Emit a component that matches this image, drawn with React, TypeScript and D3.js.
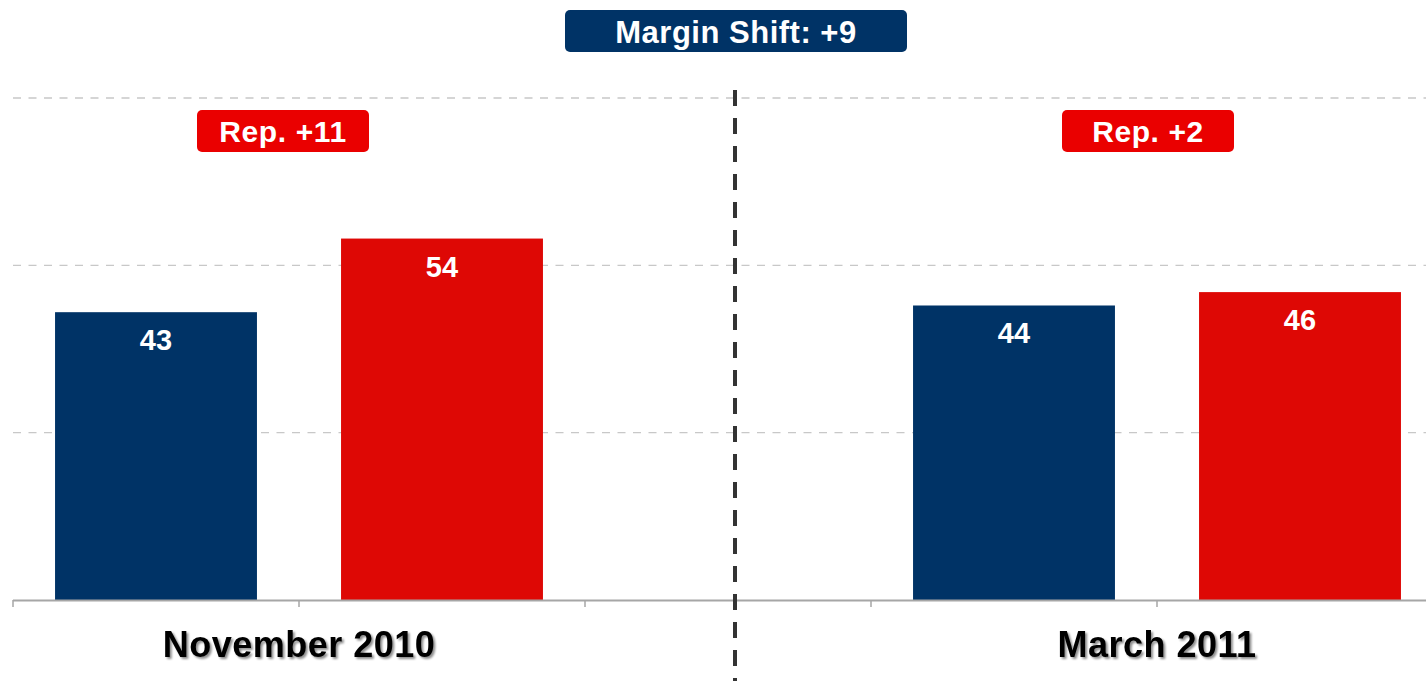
import React from "react";
import * as d3 from "d3";

const slots = ["Nov-Dem", "Nov-Rep", "gap", "Mar-Dem", "Mar-Rep"];
const parties = ["Dem", "Rep"];
const periods = ["November 2010", "March 2011"];
const values = [
  { slot: "Nov-Dem", party: "Dem", value: 43 },
  { slot: "Nov-Rep", party: "Rep", value: 54 },
  { slot: "Mar-Dem", party: "Dem", value: 44 },
  { slot: "Mar-Rep", party: "Rep", value: 46 },
];
const leads = ["Rep. +11", "Rep. +2"];
const title = "Margin Shift: +9";
const gridTicks = [25, 50, 75];

const W = 1426;
const H = 681;
const NAVY = "#003366";
const RED = "#de0805";
const FONT = "'Liberation Sans', Arial, sans-serif";

export default function App() {
  const x = d3
    .scaleBand<string>()
    .domain(slots)
    .range([13, 1443])
    .paddingInner(0.294)
    .paddingOuter(0.147);
  const y = d3.scaleLinear().domain([0, 75]).range([600, 98]);
  const step = x.step();
  const x0 = 13;
  const boundaries = d3.range(slots.length + 1).map((i) => x0 + i * step);
  const color = d3.scaleOrdinal<string, string>().domain(parties).range([NAVY, RED]);
  const periodCenters = [boundaries[1], boundaries[4]];
  const midX = 735;

  return (
    <svg
      width={W}
      height={H}
      style={{ position: "absolute", left: 0, top: 0, background: "#fff" }}
    >
      <defs>
        <filter id="shadow" x="-10%" y="-30%" width="120%" height="160%">
          <feGaussianBlur in="SourceAlpha" stdDeviation="1" />
          <feOffset dx="2" dy="2" result="b" />
          <feComponentTransfer>
            <feFuncA type="linear" slope="0.45" />
          </feComponentTransfer>
          <feMerge>
            <feMergeNode />
            <feMergeNode in="SourceGraphic" />
          </feMerge>
        </filter>
      </defs>
      {gridTicks.map((t) => (
        <line
          key={t}
          x1={13}
          x2={W}
          y1={y(t)}
          y2={y(t)}
          stroke="#c8c8c8"
          strokeWidth={1.3}
          strokeDasharray="8 7.5"
        />
      ))}
      {values.map((d) => (
        <g key={d.slot}>
          <rect
            x={x(d.slot)}
            y={y(d.value)}
            width={x.bandwidth()}
            height={y(0) - y(d.value)}
            fill={color(d.party)}
          />
          <text
            x={(x(d.slot) as number) + x.bandwidth() / 2}
            y={y(d.value) + 38}
            textAnchor="middle"
            fontFamily={FONT}
            fontWeight="bold"
            fontSize={29}
            fill="#fff"
          >
            {d.value}
          </text>
        </g>
      ))}
      <line x1={13} x2={W} y1={600.5} y2={600.5} stroke="#a6a6a6" strokeWidth={2} />
      {boundaries.map((b, i) => (
        <line key={i} x1={b} x2={b} y1={600} y2={607} stroke="#a6a6a6" strokeWidth={1.5} />
      ))}
      <line
        x1={midX}
        x2={midX}
        y1={90}
        y2={H}
        stroke="#333"
        strokeWidth={4}
        strokeDasharray="16 12"
      />
      {periods.map((p, i) => (
        <text
          key={p}
          x={periodCenters[i]}
          y={657}
          textAnchor="middle"
          fontFamily={FONT}
          fontWeight="bold"
          fontSize={36}
          letterSpacing={0.5}
          fill="#000"
          filter="url(#shadow)"
        >
          {p}
        </text>
      ))}
      {leads.map((l, i) => {
        const cx = periodCenters[i] - (i === 0 ? 16 : 9);
        return (
          <g key={l}>
            <rect x={cx - 86} y={110} width={172} height={42} rx={5} fill="#ea0000" />
            <text
              x={cx}
              y={142}
              textAnchor="middle"
              fontFamily={FONT}
              fontWeight="bold"
              fontSize={30}
              letterSpacing={0.6}
              fill="#fff"
            >
              {l}
            </text>
          </g>
        );
      })}
      <rect x={565} y={10} width={342} height={42} rx={5} fill={NAVY} />
      <text
        x={736}
        y={43}
        textAnchor="middle"
        fontFamily={FONT}
        fontWeight="bold"
        fontSize={31}
        letterSpacing={0.5}
        fill="#fff"
      >
        {title}
      </text>
    </svg>
  );
}
